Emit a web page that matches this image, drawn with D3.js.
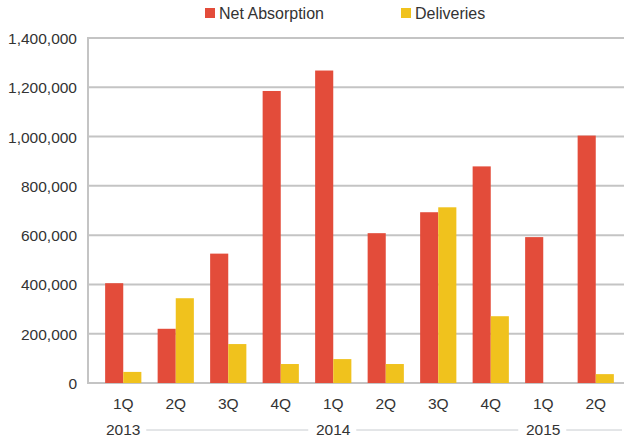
<!DOCTYPE html>
<html>
<head>
<meta charset="utf-8">
<script src="https://cdn.jsdelivr.net/npm/d3@7"></script>
<style>
  body { margin: 0; background: #fff; }
  text { font-family: "Liberation Sans", Arial, sans-serif; fill: #333; }
</style>
</head>
<body>
<div id="chart"></div>
<script>
// quarterly figures
const quarters = ["1Q", "2Q", "3Q", "4Q", "1Q", "2Q", "3Q", "4Q", "1Q", "2Q"];
const years = ["2013", "2014", "2015"];
const yearStart = [0, 4, 8]; // index of first quarter of each year
const netAbsorption = [405000, 220000, 525000, 1185000, 1268000, 608000, 693000, 879000, 592000, 1004000];
const deliveries = [45000, 344000, 158000, 77000, 97000, 77000, 713000, 271000, 0, 36000];
const seriesNames = ["Net Absorption", "Deliveries"];
const colors = ["#e34c3a", "#f0c21d"];
const yTicks = [0, 200000, 400000, 600000, 800000, 1000000, 1200000, 1400000];

const width = 624, height = 439;
const plotLeft = 88, plotRight = 624, plotTop = 38, plotBottom = 383;

const svg = d3.select("#chart").append("svg")
  .attr("width", width)
  .attr("height", height);

const y = d3.scaleLinear().domain([0, 1400000]).range([plotBottom, plotTop]);
const idx = d3.range(quarters.length);
const x = d3.scaleBand().domain(idx).range([97, 622]).paddingInner(0.31).paddingOuter(0.155);
const xs = d3.scaleBand().domain([0, 1]).range([0, x.bandwidth()]);

// gridlines
svg.append("g").selectAll("line")
  .data(yTicks)
  .join("line")
  .attr("x1", plotLeft).attr("x2", plotRight)
  .attr("y1", d => y(d)).attr("y2", d => y(d))
  .attr("stroke", "#c4c4c4")
  .attr("stroke-width", 2);

// left axis line
svg.append("line")
  .attr("x1", plotLeft).attr("x2", plotLeft)
  .attr("y1", y(1400000) - 1).attr("y2", y(0) + 1)
  .attr("stroke", "#c4c4c4")
  .attr("stroke-width", 2);

// y tick labels
svg.append("g").selectAll("text")
  .data(yTicks)
  .join("text")
  .attr("x", 77)
  .attr("y", d => y(d) + 6)
  .attr("text-anchor", "end")
  .attr("font-size", 15.5)
  .text(d => d3.format(",")(d));

// bars
const series = [netAbsorption, deliveries];
series.forEach((vals, s) => {
  svg.append("g").selectAll("rect")
    .data(vals)
    .join("rect")
    .attr("x", (d, i) => x(i) + xs(s))
    .attr("width", xs.bandwidth())
    .attr("y", d => y(d))
    .attr("height", d => y(0) - y(d))
    .attr("fill", colors[s]);
});

// quarter labels
svg.append("g").selectAll("text")
  .data(quarters)
  .join("text")
  .attr("x", (d, i) => x(i) + x.bandwidth() / 2)
  .attr("y", 409)
  .attr("text-anchor", "middle")
  .attr("font-size", 15.5)
  .text(d => d);

// year labels with separator lines
const yearX = yearStart.map(i => x(i) + x.bandwidth() / 2);
years.forEach((yr, k) => {
  svg.append("text")
    .attr("x", yearX[k])
    .attr("y", 435)
    .attr("text-anchor", "middle")
    .attr("font-size", 15.5)
    .text(yr);
  const x1 = yearX[k] + 23;
  const x2 = k < years.length - 1 ? yearX[k + 1] - 25 : 622;
  svg.append("line")
    .attr("x1", x1).attr("x2", x2)
    .attr("y1", 430).attr("y2", 430)
    .attr("stroke", "#c8ccd0")
    .attr("stroke-width", 1);
});

// legend
const legendX = [205, 401];
seriesNames.forEach((name, s) => {
  const g = svg.append("g").attr("transform", `translate(${legendX[s]},8)`);
  g.append("rect").attr("width", 10).attr("height", 10).attr("fill", colors[s]);
  g.append("text").attr("x", 14).attr("y", 10.5).attr("font-size", 16).text(name);
});
</script>
</body>
</html>
